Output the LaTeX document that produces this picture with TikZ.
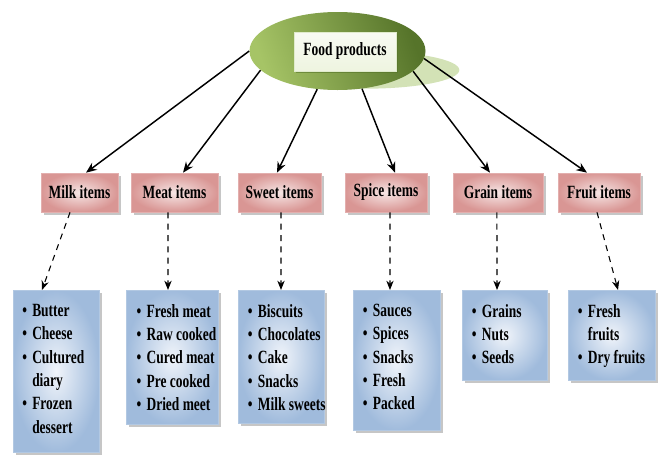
\documentclass[tikz,border=0pt]{standalone}
\usepackage{fontspec}
\setmainfont{Liberation Serif}[FakeStretch=0.72]
\usetikzlibrary{shadows,arrows.meta,shapes.geometric}

\definecolor{grnlight}{HTML}{A6C466}
\definecolor{grndark}{HTML}{56742A}
\definecolor{grnshade}{HTML}{D3E2B6}
\definecolor{grnbox}{HTML}{EEF4E0}
\definecolor{pinkdark}{HTML}{D99694}
\definecolor{pinklight}{HTML}{F6E6E5}
\definecolor{pinkline}{HTML}{E3AFAE}
\definecolor{bluedark}{HTML}{A0BBDC}
\definecolor{bluelight}{HTML}{F0F4FA}
\definecolor{blueline}{HTML}{B2C8E2}

\newcommand{\itm}[1]{\makebox[7.5pt][l]{\textbullet}#1}
\newcommand{\cnt}[1]{\hspace*{7.5pt}#1}

\tikzset{
  txt/.style={font=\fontsize{14}{17.5}\selectfont\bfseries},
  rootshape/.style={ellipse, inner sep=0pt, minimum width=132pt, minimum height=58.5pt,
    left color=grnlight, right color=grndark, shading angle=110},
  rootlabel/.style={txt, draw=grnshade!70!white, line width=0.4pt,
    top color=white!60!grnbox, bottom color=grnbox,
    minimum width=76.5pt, minimum height=29.25pt, inner sep=0pt,
    drop shadow={shadow xshift=1.5pt, shadow yshift=-1.5pt, opacity=0.6, fill=grndark}},
  catbox/.style={txt, draw=pinkline, line width=0.5pt,
    inner color=pinklight, outer color=pinkdark,
    minimum height=29.25pt, inner sep=0pt,
    drop shadow={shadow xshift=2pt, shadow yshift=-2pt, opacity=0.45, fill=gray}},
  listbox/.style={draw=blueline, line width=0.5pt, anchor=north,
    inner color=bluelight, outer color=bluedark,
    inner sep=0pt,
    drop shadow={shadow xshift=2pt, shadow yshift=-2pt, opacity=0.45, fill=gray}},
  listtext/.style={txt, align=left, anchor=north west, inner sep=0pt},
  link/.style={line width=1.1pt, -{Stealth[length=8pt,width=6.5pt]}},
  dlink/.style={line width=0.8pt, dash pattern=on 4.5pt off 4pt, -{Stealth[length=7pt,width=5.5pt]}},
}

\begin{document}
\begin{tikzpicture}[x=0.75pt,y=-0.75pt]
\useasboundingbox (0,0) rectangle (660,454);

% root: flat shadow, green ellipse and its label box
\node[ellipse, fill=grnshade, inner sep=0pt, minimum width=140pt, minimum height=28pt] (rootshadow) at (366,70) {};
\node[rootshape] (root) at (337.5,51) {};
\node[rootlabel] (rootlbl) at (345,51.5) {Food products};

% categories
\node[catbox, minimum width=57.75pt] (milk)  at (79.5,192.5) {Milk items};
\node[catbox, minimum width=65.25pt] (meat)  at (174.5,192.5) {Meat items};
\node[catbox, minimum width=62.25pt] (sweet) at (279.5,192.5) {Sweet items};
\node[catbox, minimum width=61.5pt]  (spice) at (386,192.5) {Spice items};
\node[catbox, minimum width=67.5pt]  (grain) at (498,192.5) {Grain items};
\node[catbox, minimum width=61.5pt]  (fruit) at (599,192.5) {Fruit items};

% item lists
\node[listbox, minimum width=64.5pt,  minimum height=121.5pt] (milkL)  at (56,290) {};
\node[listbox, minimum width=69pt,    minimum height=100.5pt] (meatL)  at (172,290) {};
\node[listbox, minimum width=64.5pt,  minimum height=99.75pt] (sweetL) at (281,290) {};
\node[listbox, minimum width=65.25pt, minimum height=105pt]   (spiceL) at (396.5,290) {};
\node[listbox, minimum width=63.75pt, minimum height=67.5pt]  (grainL) at (504.5,290) {};
\node[listbox, minimum width=65.25pt, minimum height=67.5pt]  (fruitL) at (611.5,290) {};

\node[listtext] (milkT) at ([xshift=7pt,yshift=-10.5pt]milkL.north west)
  {\itm{Butter}\\\itm{Cheese}\\\itm{Cultured}\\\cnt{diary}\\\itm{Frozen}\\\cnt{dessert}};
\node[listtext] (meatT) at ([xshift=8pt,yshift=-10.5pt]meatL.north west)
  {\itm{Fresh meat}\\\itm{Raw cooked}\\\itm{Cured meat}\\\itm{Pre cooked}\\\itm{Dried meet}};
\node[listtext] (sweetT) at ([xshift=7.5pt,yshift=-10.5pt]sweetL.north west)
  {\itm{Biscuits}\\\itm{Chocolates}\\\itm{Cake}\\\itm{Snacks}\\\itm{Milk sweets}};
\node[listtext] (spiceT) at ([xshift=7.5pt,yshift=-10.5pt]spiceL.north west)
  {\itm{Sauces}\\\itm{Spices}\\\itm{Snacks}\\\itm{Fresh}\\\itm{Packed}};
\node[listtext] (grainT) at ([xshift=7.5pt,yshift=-10.5pt]grainL.north west)
  {\itm{Grains}\\\itm{Nuts}\\\itm{Seeds}};
\node[listtext] (fruitT) at ([xshift=7.5pt,yshift=-10.5pt]fruitL.north west)
  {\itm{Fresh}\\\cnt{fruits}\\\itm{Dry fruits}};

% root to categories
\draw[link] (root.180) -- ([xshift=4.9pt]milk.north);
\draw[link] (root.194) -- ([xshift=6.4pt]meat.north);
\draw[link] (root.242) -- ([xshift=-1.9pt]sweet.north);
\draw[link] (root.303) -- ([xshift=6.8pt]spice.north);
\draw[link] (root.345) -- ([xshift=-6pt]grain.north);
\draw[link] (root.355) -- ([xshift=-9pt]fruit.north);

% categories to item lists
\draw[dlink] ([xshift=-7.1pt]milk.south)  -- ([xshift=-10.5pt]milkL.north);
\draw[dlink] ([xshift=-4.9pt]meat.south)  -- ([xshift=-3pt]meatL.north);
\draw[dlink] ([xshift=1.1pt]sweet.south)  -- (sweetL.north);
\draw[dlink] ([xshift=3pt]spice.south)    -- ([xshift=-4.9pt]spiceL.north);
\draw[dlink] ([xshift=-0.8pt]grain.south) -- ([xshift=-5.6pt]grainL.north);
\draw[dlink] ([xshift=-1.5pt]fruit.south) -- ([xshift=4.9pt]fruitL.north);
\end{tikzpicture}
\end{document}
